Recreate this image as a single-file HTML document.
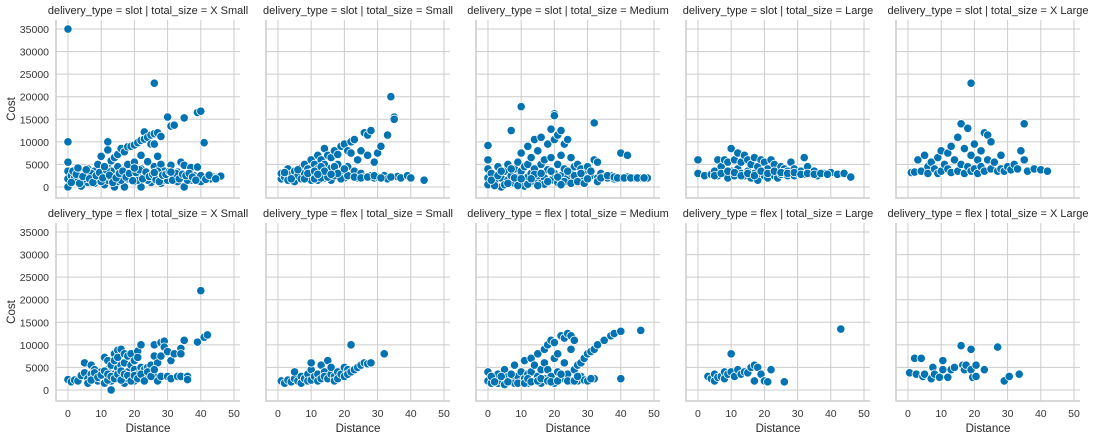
<!DOCTYPE html>
<html><head><meta charset="utf-8"><style>
body{margin:0;background:#fff;}
svg{display:block;font-family:"Liberation Sans","DejaVu Sans",sans-serif;}
</style></head><body>
<svg id="chart" width="1100" height="438" viewBox="0 0 1100 438"></svg>
<script>
const deliveryTypes = ["slot","flex"];
const totalSizes = ["X Small","Small","Medium","Large","X Large"];
const xTicks = [0,10,20,30,40,50];
const yTicks = [0,5000,10000,15000,20000,25000,30000,35000];
const slotXSmall = [[0,35000],[0,10000],[0,5500],[0,3500],[0,1800],[0,0],[1,2500],[2,1200],[3,3000],[4,1500],[4,200],[5,2800],[6,4000],[6,1000],[7,2000],[8,3500],[8,800],[9,5000],[9,1500],[10,6800],[10,2500],[11,3000],[11,500],[12,10000],[12,8200],[12,4200],[12,1500],[13,5800],[13,2000],[14,6500],[14,3000],[14,0],[15,7200],[15,4500],[15,1200],[16,8500],[16,2500],[17,7800],[17,0],[17,3800],[18,8900],[18,5000],[18,1800],[19,9000],[19,3200],[20,9300],[20,5500],[20,1200],[21,9800],[21,2500],[22,10300],[22,7000],[22,4000],[22,0],[23,12200],[23,10600],[23,2000],[24,11000],[24,5600],[24,3000],[25,11500],[25,9500],[25,1000],[26,23000],[26,11800],[26,9500],[26,4500],[27,12000],[27,6800],[27,2200],[28,11200],[28,5000],[28,800],[29,3500],[29,1500],[30,15500],[30,2500],[31,13500],[31,4800],[32,13700],[32,2000],[33,3300],[33,1200],[34,5500],[34,2000],[35,15300],[35,4800],[35,0],[36,2200],[37,4300],[37,1500],[38,2500],[39,16500],[39,4400],[39,1800],[40,16800],[40,1200],[41,9800],[41,2200],[42,2000],[43,2500],[44,2200],[45,2100],[46,2400],[2,2000],[5,1800],[7,3000],[10,1200],[13,3500],[16,1500],[19,2200],[21,1500],[24,1500],[27,3500],[30,1500],[33,2500],[36,1500],[40,2500],[43,1800],
[1,1000],[1.5,3500],[2.5,2800],[3.5,800],[4.5,2300],[5.5,3800],[6.5,1800],[7.5,1000],[8.5,2500],[9.5,3200],[10.5,2000],[11.5,3800],[12.5,2600],[13.5,1000],[14.5,2000],[15.5,3000],[16.5,3500],[17.5,2200],[18.5,3000],[19.5,1400],[20.5,3200],[21.5,3800],[22.5,1800],[23.5,3300],[24.5,2300],[25.5,2800],[26.5,1600],[27.5,1200],[28.5,2600],[29.5,2800],[30.5,3400],[31.5,1500],[32.5,3000],[33.5,1800],[34.5,2800],[35.5,2500],[36.5,3000],[37.5,2200],[38.5,1500],[41.5,1700],[42.5,2600],[44.5,1800],[3,4200],[11,4500],[20,4200],[26,3200],[31,3300]];
const slotSmall = [[1,1800],[1,3000],[2,2200],[3,4000],[3,1500],[4,2800],[5,3500],[5,1200],[6,2500],[7,4200],[7,1800],[8,3000],[8,5000],[9,2200],[9,4000],[10,6000],[10,1500],[10,3200],[11,5000],[11,2500],[12,7000],[12,4000],[12,1500],[13,6000],[13,3000],[14,5000],[14,8500],[14,2000],[15,7000],[15,3500],[16,6500],[16,4200],[16,1500],[17,8000],[17,2500],[18,7200],[18,5000],[19,9000],[19,3000],[20,9500],[20,2000],[21,8000],[21,4500],[22,10000],[22,7500],[22,2500],[23,10500],[23,3500],[24,6000],[24,2000],[25,8000],[25,3000],[26,12000],[26,2200],[27,11500],[27,7000],[28,12500],[28,2500],[29,5500],[29,2000],[30,7500],[30,2200],[31,9000],[32,2500],[33,11500],[33,1800],[34,20000],[35,15500],[35,15000],[36,2300],[37,2000],[39,2500],[40,2000],[44,1500],
[2,3200],[4,1800],[6,3800],[8,1800],[9,3000],[11,3500],[11,1800],[13,2000],[13,4500],[15,2200],[17,4500],[19,1800],[21,2500],[23,2200],[25,2000],[27,2200],[29,2500],[31,2000],[34,2200],[14,3500],[18,3000],[20,4000],[12,2800],[16,2800]];
const slotMedium = [[0,9200],[0,6000],[0,4000],[0,2000],[0,500],[1,3000],[2,1200],[3,4500],[4,2000],[4,0],[5,3500],[6,5000],[6,1500],[7,12500],[7,2500],[8,4000],[8,800],[9,5500],[9,2200],[10,17800],[10,7500],[10,3500],[11,4500],[11,1000],[12,9000],[12,5000],[12,2200],[13,6500],[13,3000],[14,10500],[14,4000],[14,1200],[15,8000],[15,2500],[16,11000],[16,5000],[16,800],[17,6000],[17,2000],[18,9500],[18,3800],[19,12800],[19,6500],[19,1500],[20,10500],[20,16200],[20,15800],[20,3000],[21,11500],[21,5000],[21,1000],[22,12500],[22,7000],[22,2500],[23,9500],[23,4000],[24,10500],[24,2000],[25,6500],[25,3000],[26,4500],[26,1500],[27,5000],[27,2200],[28,4000],[28,1800],[29,3000],[29,2000],[30,4500],[31,2500],[32,6000],[32,14200],[33,5500],[33,2000],[34,3000],[35,2200],[36,2000],[37,2500],[38,1800],[40,7500],[40,2000],[42,7000],[42,2200],[44,2000],[46,2000],[48,2000],[2,300],[5,500],[8,2000],[11,200],[14,2800],[17,600],[23,1200],[26,2500],
[1,1500],[3,2500],[4,3500],[6,800],[7,4000],[9,300],[10,1800],[12,600],[13,1800],[15,300],[16,3000],[18,1200],[19,3500],[21,2200],[22,500],[24,3500],[25,800],[27,1200],[28,3000],[29,800],[30,1800],[31,3500],[33,1200],[34,2000],[36,2500],[38,2200],[39,2000],[41,2000],[43,2000],[45,2000],[47,2000]];
const slotLarge = [[0,6000],[0,3000],[2,2500],[4,2800],[5,3500],[6,6000],[6,2500],[7,4500],[8,6000],[8,3000],[9,5500],[9,2000],[10,8500],[10,3500],[11,6000],[11,2500],[12,7500],[12,4000],[13,5500],[13,3000],[14,7000],[14,2500],[15,6000],[15,3500],[16,5000],[16,2000],[17,6500],[17,3000],[18,4500],[18,1500],[19,6000],[19,3000],[20,5500],[20,2500],[21,4000],[21,2000],[22,6000],[22,3000],[23,5000],[23,2500],[24,3500],[24,2000],[25,4500],[25,2800],[26,4000],[26,3200],[27,3500],[27,2500],[28,5500],[28,3000],[29,4000],[29,2500],[30,3000],[31,3500],[32,6500],[32,2800],[33,4500],[34,3000],[35,3500],[36,2500],[38,3000],[40,3200],[42,2800],[44,3000],[46,2200],
[5,2500],[7,3000],[9,3500],[11,3200],[13,2500],[15,3000],[17,2500],[19,3500],[21,3000],[23,3500],[25,3200],[27,3000],[29,3200],[31,2800],[33,3000],[35,2800],[37,3000],[39,2800]];
const slotXLarge = [[1,3200],[2,3300],[3,6000],[4,3500],[5,7000],[6,4500],[6,3000],[7,5500],[8,4000],[9,6500],[9,3000],[10,8000],[10,3500],[11,5000],[12,7500],[12,4000],[13,9000],[13,3200],[14,6000],[15,11000],[15,3500],[16,14000],[16,5000],[17,8500],[17,3000],[18,13000],[18,4500],[19,23000],[19,7000],[19,3500],[20,9500],[20,4000],[21,6000],[21,3000],[22,8000],[22,4500],[23,12000],[23,3500],[24,11500],[24,6000],[25,10000],[25,4000],[26,5500],[27,3500],[28,7000],[28,4000],[29,3500],[30,4500],[31,3800],[32,5000],[33,4000],[34,8000],[35,14000],[35,6000],[36,3500],[38,4000],[40,3800],[42,3500]];
const flexXSmall = [[0,2300],[1,1800],[2,2200],[3,2000],[4,3200],[5,3800],[5,6000],[6,2500],[6,1500],[7,5500],[7,3500],[8,2800],[8,4500],[9,2000],[9,3500],[10,4000],[10,2500],[11,7200],[11,3000],[11,1500],[12,6500],[12,4500],[13,0],[13,5500],[13,2000],[14,8000],[14,3500],[14,6500],[15,8800],[15,7200],[15,4800],[15,2500],[16,9000],[16,5500],[16,3000],[17,8000],[17,6000],[17,1500],[18,7500],[18,4000],[18,2500],[19,8000],[19,5500],[19,3000],[20,6500],[20,4500],[20,2000],[21,8600],[21,7200],[21,3500],[22,10000],[22,5000],[22,2500],[23,4500],[23,3000],[24,5000],[24,3000],[25,5500],[26,10000],[26,7500],[26,3000],[27,6000],[27,2000],[28,10500],[28,7500],[28,3000],[29,10800],[29,9500],[30,8500],[30,3000],[31,6500],[31,2500],[32,8000],[33,3000],[34,9200],[34,8000],[34,3000],[35,11000],[36,3000],[36,2300],[39,10600],[40,22000],[41,11700],[42,12200],
[7,2200],[8,3800],[9,2800],[10,3300],[11,4200],[12,2200],[12,3500],[13,3000],[14,2500],[15,3500],[16,2200],[16,4200],[17,3500],[18,3200],[19,2000],[20,3200],[21,2500],[22,3500],[23,2000],[24,4000],[25,3000],[26,4500]];
const flexSmall = [[1,2000],[2,1500],[3,2200],[4,1800],[5,2500],[5,4000],[6,2000],[7,3000],[7,1500],[8,2500],[9,3500],[9,2000],[10,4500],[10,6000],[10,2200],[11,3000],[12,3500],[12,2000],[13,5500],[13,2500],[14,4000],[14,3000],[15,6500],[15,2500],[16,3500],[16,5000],[17,3000],[17,2000],[18,4000],[18,2500],[19,3500],[20,5000],[20,3000],[21,4500],[21,3500],[22,10000],[22,4000],[23,4500],[24,5000],[25,5500],[26,6000],[27,5800],[28,6000],[32,8000]];
const flexMedium = [[0,4000],[0,2000],[1,1500],[2,2500],[3,3500],[3,1500],[4,2000],[5,4500],[5,1200],[6,3000],[7,2000],[8,5500],[8,1500],[9,3000],[10,4000],[10,1800],[11,6500],[11,2500],[12,3500],[12,1500],[13,7000],[13,4000],[14,2000],[14,5500],[15,8000],[15,3000],[16,4500],[16,1500],[17,9000],[17,6000],[17,2500],[18,10000],[18,4500],[19,11000],[19,3000],[20,10500],[20,7000],[20,1500],[21,8000],[21,4000],[22,12000],[22,2500],[23,11500],[23,6000],[24,12500],[24,3500],[25,12000],[25,9000],[25,2000],[26,11000],[26,4500],[27,5500],[27,2000],[28,6000],[28,3000],[29,7000],[29,2200],[30,8000],[31,8500],[32,9000],[32,2500],[33,10000],[35,11000],[37,12000],[38,12500],[40,13000],[40,2500],[46,13200],
[1,3000],[2,1800],[4,3000],[6,1800],[7,3500],[9,1500],[11,1500],[12,2500],[13,1800],[15,2000],[16,2500],[18,2000],[19,1800],[21,2000],[22,3500],[24,2000],[26,2000],[27,3000],[30,2000],[31,2500]];
const flexLarge = [[3,3000],[4,2500],[5,3500],[5,2000],[6,2800],[7,3000],[8,4000],[8,2500],[9,3500],[10,8000],[10,4000],[11,3000],[12,4500],[13,3500],[14,4000],[15,3800],[16,5000],[17,5500],[17,2000],[18,5000],[19,3500],[20,2000],[21,1800],[22,4500],[26,1800],[43,13500]];
const flexXLarge = [[0.5,3800],[2,7000],[2.5,3500],[4,7000],[4.5,3000],[5,3500],[7,2500],[7.5,5000],[8,3500],[9.5,2800],[10.5,6500],[10.5,4500],[12,2800],[13,4500],[14,5000],[16,9800],[16.5,5500],[17,4500],[17.5,5500],[19,9000],[19,4500],[19.5,2800],[20.5,5500],[20.5,3000],[23,4500],[27,9500],[29,2000],[30.5,3000],[33.5,3500]];
const panelData = [[slotXSmall,slotSmall,slotMedium,slotLarge,slotXLarge],[flexXSmall,flexSmall,flexMedium,flexLarge,flexXLarge]];

const NS = "http://www.w3.org/2000/svg";
const svg = document.getElementById("chart");
const panelLefts = [56,266,476,686,896], panelW = 184;
const rowTops = [20,223], panelH = 178;
const xMin = -3.6, xMax = 51.8, yMin = -2450, yMax = 37000;
function xScale(v, c){ return panelLefts[c] + (v - xMin) / (xMax - xMin) * panelW; }
function yScale(v, r){ return rowTops[r] + panelH - (v - yMin) / (yMax - yMin) * panelH; }
function mk(tag, attrs, parent){ const e = document.createElementNS(NS, tag); for (const k in attrs) e.setAttribute(k, attrs[k]); (parent||svg).appendChild(e); return e; }

for (let r = 0; r < 2; r++) {
  for (let c = 0; c < 5; c++) {
    const g = mk("g", {});
    
    
    const L = panelLefts[c], T = rowTops[r], B = T + panelH;
    xTicks.forEach(t => { const x = xScale(t, c);
      const ln = mk("line", {x1:x, x2:x, y1:T, y2:B, stroke:"#cccccc", "stroke-width":1}, g);
      
      
      if (r === 1) { const tx = mk("text", {x:x, y:B + 16, "text-anchor":"middle", "font-size":10.5, fill:"#333"}, g); tx.textContent = t;
        
         }
    });
    yTicks.forEach(t => { const y = yScale(t, r);
      const ln = mk("line", {x1:L, x2:L + panelW, y1:y, y2:y, stroke:"#cccccc", "stroke-width":1}, g);
      
      
      if (c === 0) { const tx = mk("text", {x:L - 7, y:y + 4, "text-anchor":"end", "font-size":10.5, fill:"#333"}, g); tx.textContent = t;
        
         }
    });
    const sp = mk("path", {d:`M${L},${T}V${B}H${L+panelW}`, fill:"none", stroke:"#cccccc", "stroke-width":1.5}, g);
    
    
    const ti = mk("text", {x:L + panelW/2, y:T - 6, "text-anchor":"middle", "font-size":11, fill:"#262626"}, g);
    ti.textContent = "delivery_type = " + deliveryTypes[r] + " | total_size = " + totalSizes[c];
    
    
    panelData[r][c].forEach(p => {
      const pt = mk("circle", {cx:xScale(p[0], c), cy:yScale(p[1], r), r:4.2, fill:"#0173b2", stroke:"#ffffff", "stroke-width":0.8}, g);
      
      
    });
    if (r === 1) { const xl = mk("text", {x:L + panelW/2, y:432, "text-anchor":"middle", "font-size":11.5, fill:"#262626"}, g); xl.textContent = "Distance";
      
       }
    if (c === 0) { const yc = (T + B) / 2; const yl = mk("text", {x:15, y:yc, "text-anchor":"middle", "font-size":11.5, fill:"#262626", transform:`rotate(-90 15 ${yc})`}, g); yl.textContent = "Cost";
      
       }
  }
}
</script>
</body></html>
